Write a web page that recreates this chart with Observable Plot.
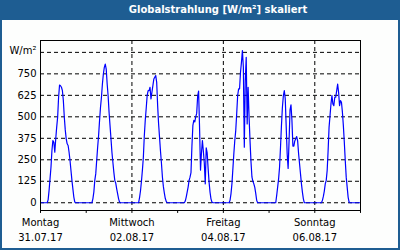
<!DOCTYPE html>
<html><head><meta charset="utf-8">
<script src="https://cdn.jsdelivr.net/npm/d3@7"></script>
<script src="https://cdn.jsdelivr.net/npm/@observablehq/plot@0.6"></script>
<style>
html,body{margin:0;padding:0;background:#fff;}
#card{position:relative;width:400px;height:250px;background:#1e5d92;overflow:hidden;}
#title{position:absolute;left:18px;top:0;width:400px;height:20px;color:#fff;font:bold 10px "DejaVu Sans",sans-serif;line-height:20px;text-align:center;}
#panel{position:absolute;left:2px;top:20px;width:396px;height:228px;background:#fdfefd;}
#panel svg{display:block;}
</style></head><body>
<div id="card"><div id="title">Globalstrahlung [W/m²] skaliert</div><div id="panel"></div></div>
<script>
const sampleHours = [3,3.5,4,4.5,5,5.5,6,6.5,7,7.5,8,8.5,9,9.5,10,10.5,11,11.5,12,12.5,13,13.5,14,14.5,15,15.5,16,16.5,17,17.5,18,18.5];
const day1 = [0,0,17,72,139,207,304,362,352,294,372,440,498,614,685,681,672,652,594,498,424,372,343,333,294,246,188,130,81,33,4,0];
const day2 = [0,23,62,130,168,246,323,391,478,556,614,691,749,788,807,778,691,623,527,449,372,294,236,178,130,114,81,52,23,4,0,0];
const day3 = [0,0,30,70,125,190,265,390,480,550,625,652,652,672,604,643,681,720,730,740,700,565,460,380,300,230,150,95,58,26,8,0];
const day4 = [0,0,10,33,62,91,130,149,175,330,450,480,470,500,520,620,650,440,190,290,362,300,230,110,320,290,200,120,62,23,4,0];
const day5 = [0,14,52,110,197,285,362,420,517,623,662,662,759,817,885,788,323,710,846,459,672,500,360,240,150,125,110,90,55,14,0,0];
const day6 = [0,0,43,91,139,207,323,449,556,623,652,604,440,285,200,360,540,570,480,330,330,360,372,385,360,285,227,168,110,62,23,0];
const day7 = [0,0,14,37,68,110,130,188,304,440,507,575,623,575,565,614,614,652,691,643,565,594,585,527,449,352,246,149,91,33,4,0];
const days = [day1, day2, day3, day4, day5, day6, day7];

const dayNames = ["Montag", "Mittwoch", "Freitag", "Sonntag"];
const dayDates = ["31.07.17", "02.08.17", "04.08.17", "06.08.17"];
const labelDayIndex = [0, 2, 4, 6];
const gridDayIndex = [2, 4, 6];
const dayTickIndex = [0, 1, 2, 3, 4, 5, 6, 7];
const yGrid = [0, 125, 250, 375, 500, 625, 750, 875];
const yLabels = [0, 125, 250, 375, 500, 625, 750];
const yUnit = "W/m²";

const series = [{t: 0, v: 0}];
days.forEach((vals, d) => vals.forEach((v, i) => series.push({t: d * 24 + sampleHours[i], v})));
series.push({t: 168, v: 0});

const chart = Plot.plot({
  width: 396, height: 228,
  marginLeft: 38, marginRight: 38, marginTop: 20, marginBottom: 38,
  x: {type: "linear", domain: [0, 168], axis: null},
  y: {type: "linear", domain: [-45, 944], axis: null},
  style: {background: "transparent", fontFamily: "'DejaVu Sans', sans-serif", fontSize: "10px", color: "#000", overflow: "visible"},
  marks: [
    Plot.ruleY(yGrid, {stroke: "#000", strokeDasharray: "4,3"}),
    Plot.ruleX(gridDayIndex, {x: d => d * 24, stroke: "#000", strokeDasharray: "4,3"}),
    Plot.line(series, {x: "t", y: "v", stroke: "#0000ff", strokeWidth: 1.2}),
    Plot.frame({stroke: "#000"}),
    Plot.ruleX(dayTickIndex, {x: d => d * 24, y1: -45, y2: -62, stroke: "#000"}),
    Plot.text(yLabels, {y: d => d, text: d => String(d), frameAnchor: "left", textAnchor: "end", dx: -4, fill: "#000"}),
    Plot.text([yUnit], {text: d => d, frameAnchor: "top-left", textAnchor: "end", dx: -4, dy: 6, fill: "#000"}),
    Plot.text(labelDayIndex, {x: d => d * 24, text: (d, i) => dayNames[i], frameAnchor: "bottom", dy: 15, fill: "#000"}),
    Plot.text(labelDayIndex, {x: d => d * 24, text: (d, i) => dayDates[i], frameAnchor: "bottom", dy: 30, fill: "#000"})
  ]
});
document.getElementById("panel").appendChild(chart);
</script>
</body></html>
